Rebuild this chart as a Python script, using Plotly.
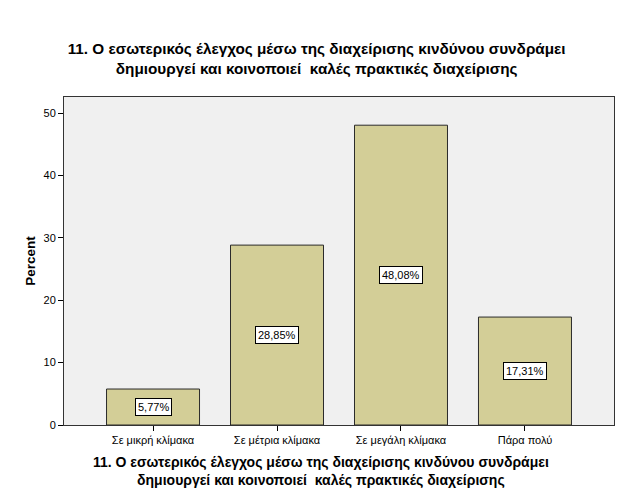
import plotly.graph_objects as go

# survey answers and their percentages
categories = ['Σε μικρή κλίμακα', 'Σε μέτρια κλίμακα', 'Σε μεγάλη κλίμακα', 'Πάρα πολύ']
percents = [5.77, 28.85, 48.08, 17.31]
labels = ['5,77%', '28,85%', '48,08%', '17,31%']
yticks = [0, 10, 20, 30, 40, 50]

title_txt = ('11. Ο εσωτερικός έλεγχος μέσω της διαχείρισης κινδύνου συνδράμει<br>'
             'δημιουργεί και κοινοποιεί  καλές πρακτικές διαχείρισης')

fig = go.Figure()
fig.add_trace(go.Bar(
    x=categories, y=percents,
    width=0.75,
    marker=dict(color='#D3CE97', line=dict(color='#2B2B2B', width=1)),
    hoverinfo='skip',
))

# value boxes in the middle of each bar
for c, v, t in zip(categories, percents, labels):
    fig.add_annotation(x=c, y=v / 2, text=t, showarrow=False,
                       font=dict(family='Liberation Sans, Arial', size=11, color='black'),
                       bgcolor='white', bordercolor='black', borderwidth=1, borderpad=2)

# x axis title sits centred on the page, not on the plot, so use an annotation
fig.add_annotation(xref='paper', yref='paper', x=0.467, y=-0.139,
                   xanchor='center', yanchor='middle', showarrow=False,
                   text='<b>' + title_txt + '</b>',
                   font=dict(family='Liberation Sans, Arial', size=14, color='black'))

# page has an 8px body margin, so figure is a bit smaller than the window
fig.update_layout(
    width=621, height=496,
    margin=dict(l=56, r=15, t=89, b=79),
    paper_bgcolor='white', plot_bgcolor='#F0F0F0',
    showlegend=False,
    title=dict(text=title_txt, x=0.497, xanchor='center', y=0.908, yanchor='middle',
               font=dict(family='Liberation Sans, Arial', size=15.3, color='black', weight='bold')),
    font=dict(family='Liberation Sans, Arial', color='black'),
)

fig.update_xaxes(
    type='category', range=[-0.718, 3.718],
    showline=True, mirror=True, linecolor='#333333', linewidth=1,
    ticks='outside', ticklen=5, tickcolor='black',
    tickfont=dict(size=11),
    showgrid=False,
)
fig.update_yaxes(
    range=[0, 52.6], tickvals=yticks,
    showline=True, mirror=True, linecolor='#333333', linewidth=1,
    ticks='outside', ticklen=5, tickcolor='black',
    tickfont=dict(size=11),
    title=dict(text='<b>Percent</b>', font=dict(size=13.5), standoff=4),
    showgrid=False, zeroline=False,
)

fig.write_html("out.html")
